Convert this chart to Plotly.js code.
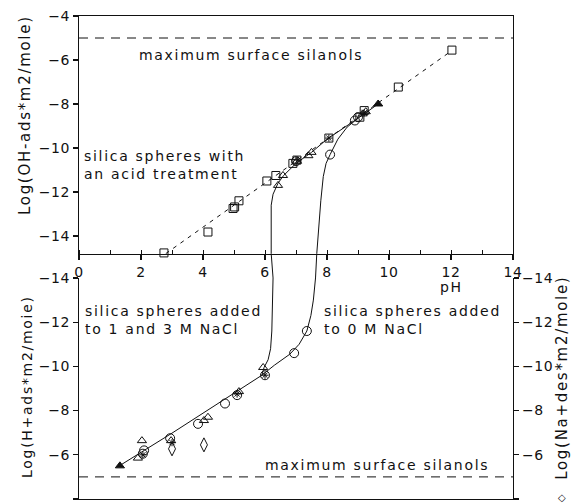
<!DOCTYPE html>
<html><head><meta charset="utf-8">
<script src="https://cdn.plot.ly/plotly-3.0.1.min.js"></script>
<style>
html,body{margin:0;padding:0;background:#fff;}
svg text{letter-spacing:1.7px;}
svg .xtick text, svg .ytick text, svg .y2tick text, svg .y4tick text{letter-spacing:0.6px;}
</style></head><body>
<div id="chart" style="width:574px;height:503px;"></div>
<script>
// ---------- data ----------
// top panel: OH- adsorption (acid-treated spheres)
var topSquarePH = [2.74, 4.16, 4.97, 5.02, 5.16, 6.06, 6.35, 6.9, 7.03, 8.06, 9.06, 9.2, 10.3, 12.03];
var topSquareV  = [-14.77, -13.82, -12.75, -12.68, -12.4, -11.5, -11.25, -10.7, -10.55, -9.55, -8.6, -8.3, -7.23, -5.55];
var topTriPH = [6.42, 6.58, 7.03, 7.4, 7.5, 9.15, 9.25];
var topTriV  = [-11.7, -11.25, -10.6, -10.35, -10.2, -8.45, -8.35];
var topFilledTriPH = [9.65];
var topFilledTriV  = [-8.0];
var topCirclePH = [8.1, 8.9, 9.0, 7.0];
var topCircleV  = [-10.3, -8.75, -8.6, -10.6];
var topStarPH = [7.06, 8.06, 9.2];
var topStarV  = [-10.55, -9.55, -8.4];
var fitLinePH = [2.8, 12.0];
var fitLineV  = [-14.8, -5.6];
var silanolPH = [0, 14];
var silanolV  = [-5, -5];

// bottom panel: H+ adsorption / Na+ desorption
var botTriPH = [1.9, 2.03, 2.97, 4.03, 4.16, 5.16, 5.94];
var botTriV  = [-5.85, -6.64, -6.64, -7.55, -7.7, -8.86, -9.95];
var botFilledTriPH = [1.32];
var botFilledTriV  = [-5.5];
var botCirclePH = [2.06, 2.1, 2.94, 3.84, 4.71, 5.1, 6.0, 6.94, 7.35];
var botCircleV  = [-6.05, -6.2, -6.75, -7.4, -8.32, -8.7, -9.6, -10.6, -11.6];
var botDiamondPH = [3.0, 4.03];
var botDiamondV  = [-6.27, -6.45];
var botStarPH = [3.0, 6.0, 5.1, 2.06];
var botStarV  = [-6.55, -9.6, -8.75, -6.0];
var sharedLinePH = [1.3, 3.0, 5.9];
var sharedLineV  = [-5.5, -6.98, -9.6];

// curves crossing both panels (panel: b = bottom, t = top)
var curveAPH = [5.9, 5.97, 6.1, 6.18, 6.22, 6.24, 6.25, 6.26, 6.2, 6.19, 6.2, 6.26, 6.33, 6.42, 6.6, 7.0, 7.5, 8.0, 9.0, 9.65];
var curveAV  = [-9.6, -9.95, -10.3, -10.8, -11.6, -12.4, -13.2, -14.0, -14.8, -13.5, -12.6, -12.1, -11.85, -11.6, -11.25, -10.7, -10.2, -9.6, -8.65, -8.0];
var curveAPanel = ['b','b','b','b','b','b','b','b','t','t','t','t','t','t','t','t','t','t','t','t'];
var curveBPH = [5.9, 6.3, 6.8, 7.1, 7.35, 7.48, 7.56, 7.63, 7.67, 7.73, 7.8, 7.88, 7.97, 8.1, 8.35, 8.65, 9.0];
var curveBV  = [-9.6, -10.05, -10.55, -11.0, -11.6, -12.3, -13.0, -14.0, -14.8, -13.5, -12.4, -11.3, -10.7, -10.3, -9.6, -9.05, -8.65];
var curveBPanel = ['b','b','b','b','b','b','b','b','t','t','t','t','t','t','t','t','t'];

var xTicks = [0, 2, 4, 6, 8, 10, 12, 14];

// ---------- layout geometry ----------
var topRange = [-14.82, -4], topDom = [0.5072, 1];
var botRange = [-4, -14], botDom = [0, 0.4576];
function toPaper(v, p) {
  var r = p === 't' ? topRange : botRange, d = p === 't' ? topDom : botDom;
  return d[0] + (v - r[0]) / (r[1] - r[0]) * (d[1] - d[0]);
}
var curveAY = curveAV.map(function (v, i) { return toPaper(v, curveAPanel[i]); });
var curveBY = curveBV.map(function (v, i) { return toPaper(v, curveBPanel[i]); });

var K = '#111';
var FONT = 'DejaVu Sans, sans-serif';
function mk(x, y, xa, ya, sym, size, extra) {
  var m = {symbol: sym, size: size, color: K, line: {color: K, width: 1}};
  return Object.assign({x: x, y: y, xaxis: xa, yaxis: ya, mode: 'markers', marker: m, hoverinfo: 'skip', cliponaxis: false}, extra || {});
}
function ln(x, y, xa, ya, dash) {
  return {x: x, y: y, xaxis: xa, yaxis: ya, mode: 'lines', line: {color: K, width: 1, dash: dash || 'solid'}, hoverinfo: 'skip'};
}

var traces = [
  ln(silanolPH, silanolV, 'x', 'y', '9px,7px'),
  ln(fitLinePH, fitLineV, 'x', 'y', '4px,5px'),
  mk(topSquarePH, topSquareV, 'x', 'y', 'square-open', 8),
  mk(topTriPH, topTriV, 'x', 'y', 'triangle-up-open', 8),
  mk(topFilledTriPH, topFilledTriV, 'x', 'y', 'triangle-up', 8),
  mk(topCirclePH, topCircleV, 'x', 'y', 'circle-open', 9),
  mk(topStarPH, topStarV, 'x', 'y', 'asterisk-open', 6),

  ln(silanolPH, silanolV, 'x2', 'y2', '9px,7px'),
  ln(sharedLinePH, sharedLineV, 'x2', 'y2'),
  mk(botTriPH, botTriV, 'x2', 'y2', 'triangle-up-open', 8),
  mk(botFilledTriPH, botFilledTriV, 'x2', 'y2', 'triangle-up', 8),
  mk(botCirclePH, botCircleV, 'x2', 'y2', 'circle-open', 9),
  mk(botDiamondPH, botDiamondV, 'x2', 'y4', 'diamond-tall-open', 10),
  mk(botStarPH, botStarV, 'x2', 'y2', 'asterisk-open', 6),

  ln(curveAPH, curveAY, 'x', 'y3'),
  ln(curveBPH, curveBY, 'x', 'y3')
];

var tickFont = {family: FONT, size: 14, color: K};
var baseY = {showgrid: false, zeroline: false, showline: true, linecolor: K, linewidth: 1.2,
             ticks: 'outside', ticklen: 5, tickwidth: 1.2, tickcolor: K, dtick: 2, tick0: 0,
             tickfont: tickFont, fixedrange: true};
var annFont = {family: FONT, size: 14, color: K};

var layout = {
  width: 574, height: 503,
  margin: {l: 79, r: 61, t: 16, b: 4, pad: 0},
  paper_bgcolor: '#fff', plot_bgcolor: 'rgba(0,0,0,0)',
  showlegend: false,
  font: {family: FONT, size: 14, color: K},
  xaxis: {domain: [0, 1], range: [0, 14], anchor: 'y', showgrid: false, zeroline: false,
          showline: true, mirror: true, linecolor: K, linewidth: 1.2,
          ticks: 'outside', ticklen: 5, tickwidth: 1.2, tickcolor: K,
          tickvals: xTicks, ticktext: xTicks.map(String), tickfont: tickFont,
          minor: {dtick: 1, tick0: 0, ticks: 'inside', ticklen: 4, tickwidth: 1, tickcolor: K},
          fixedrange: true},
  yaxis: Object.assign({}, baseY, {domain: topDom, range: topRange, anchor: 'x', mirror: true}),
  xaxis2: {domain: [0, 1], range: [0, 14], anchor: 'y2', showgrid: false, zeroline: false,
           showline: true, linecolor: K, linewidth: 1.2, ticks: '', showticklabels: false, fixedrange: true},
  yaxis2: Object.assign({}, baseY, {domain: botDom, range: botRange, anchor: 'x2'}),
  yaxis4: Object.assign({}, baseY, {range: botRange, anchor: 'x2', overlaying: 'y2', side: 'right'}),
  yaxis3: {domain: [0, 1], range: [0, 1], anchor: 'x', visible: false, fixedrange: true},
  annotations: [
    {xref: 'x', yref: 'y', x: 1.87, y: -5.77, xanchor: 'left', yanchor: 'middle', showarrow: false,
     text: 'maximum surface silanols', font: annFont},
    {xref: 'x', yref: 'y', x: 0.1, y: -10.77, xanchor: 'left', yanchor: 'middle', align: 'left', showarrow: false,
     text: 'silica spheres with<br>an acid treatment', font: annFont},
    {xref: 'x2', yref: 'y2', x: 0.13, y: -12.09, xanchor: 'left', yanchor: 'middle', align: 'left', showarrow: false,
     text: 'silica spheres added<br>to 1 and 3 M NaCl', font: annFont},
    {xref: 'x2', yref: 'y2', x: 7.84, y: -12.09, xanchor: 'left', yanchor: 'middle', align: 'left', showarrow: false,
     text: 'silica spheres added<br>to 0 M NaCl', font: annFont},
    {xref: 'x2', yref: 'y2', x: 5.94, y: -5.55, xanchor: 'left', yanchor: 'middle', showarrow: false,
     text: 'maximum surface silanols', font: annFont},
    {xref: 'paper', yref: 'paper', x: 0.859, y: 0.439, xanchor: 'center', yanchor: 'middle', showarrow: false,
     text: 'pH', font: {family: FONT, size: 14, color: K}},
    {xref: 'paper', yref: 'paper', x: -0.1244, y: 0.795, xanchor: 'center', yanchor: 'middle', showarrow: false,
     textangle: -90, text: 'Log(OH-ads*m2/mole)', font: {family: FONT, size: 15, color: K}},
    {xref: 'paper', yref: 'paper', x: -0.12, y: 0.234, xanchor: 'center', yanchor: 'middle', showarrow: false,
     textangle: -90, text: 'Log(H+ads*m2/moie)', font: {family: FONT, size: 14, color: K}},
    {xref: 'paper', yref: 'paper', x: 1.113, y: 0.251, xanchor: 'center', yanchor: 'middle', showarrow: false,
     textangle: -90, text: 'Log(Na+des*m2/mole)', font: {family: FONT, size: 15, color: K}},
    {xref: 'paper', yref: 'paper', x: 1.115, y: 0.004, xanchor: 'center', yanchor: 'middle', showarrow: false,
     text: '\u25C7', font: {family: FONT, size: 10, color: K}}
  ]
};

Plotly.newPlot('chart', traces, layout, {staticPlot: true, displayModeBar: false});
</script></body></html>
